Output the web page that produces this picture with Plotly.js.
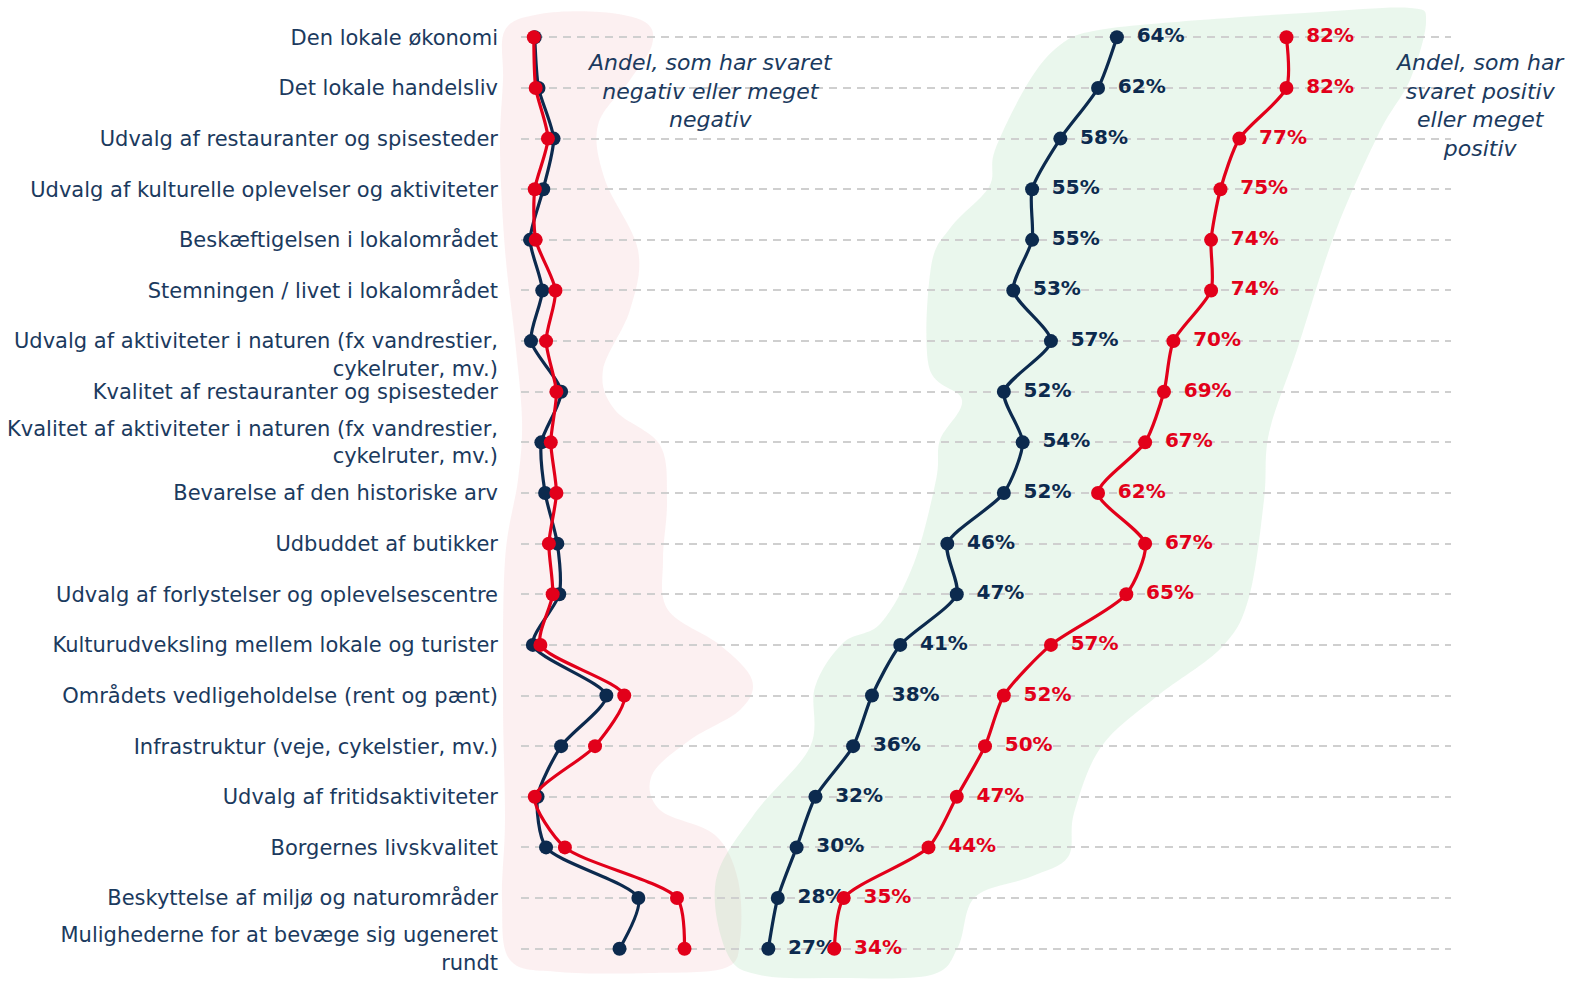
<!DOCTYPE html>
<html>
<head>
<meta charset="utf-8">
<script src="https://cdn.plot.ly/plotly-3.0.1.min.js"></script>
<style>html,body{margin:0;padding:0;background:#fff;}#chart{width:1577px;height:981px;}</style>
</head>
<body>
<div id="chart"></div>
<script>
// ---------- DATA ----------
const categories = [
  "Den lokale økonomi",
  "Det lokale handelsliv",
  "Udvalg af restauranter og spisesteder",
  "Udvalg af kulturelle oplevelser og aktiviteter",
  "Beskæftigelsen i lokalområdet",
  "Stemningen / livet i lokalområdet",
  "Udvalg af aktiviteter i naturen (fx vandrestier,<br>cykelruter, mv.)",
  "Kvalitet af restauranter og spisesteder",
  "Kvalitet af aktiviteter i naturen (fx vandrestier,<br>cykelruter, mv.)",
  "Bevarelse af den historiske arv",
  "Udbuddet af butikker",
  "Udvalg af forlystelser og oplevelsescentre",
  "Kulturudveksling mellem lokale og turister",
  "Områdets vedligeholdelse (rent og pænt)",
  "Infrastruktur (veje, cykelstier, mv.)",
  "Udvalg af fritidsaktiviteter",
  "Borgernes livskvalitet",
  "Beskyttelse af miljø og naturområder",
  "Mulighederne for at bevæge sig ugeneret<br>rundt"
];
// Share answering negative / very negative (%)
const negativeNavy = [2.2, 2.6, 4.2, 3.1, 1.7, 3.0, 1.8, 5.0, 2.9, 3.3, 4.6, 4.8, 2.0, 9.8, 5.0, 2.5, 3.4, 13.2, 11.2];
const negativeRed  = [2.1, 2.3, 3.6, 2.2, 2.3, 4.4, 3.4, 4.5, 3.9, 4.5, 3.7, 4.1, 2.8, 11.7, 8.6, 2.2, 5.4, 17.3, 18.1];
// Share answering positive / very positive (%)
const positiveNavy = [64, 62, 58, 55, 55, 53, 57, 52, 54, 52, 46, 47, 41, 38, 36, 32, 30, 28, 27];
const positiveRed  = [82, 82, 77, 75, 74, 74, 70, 69, 67, 62, 67, 65, 57, 52, 50, 47, 44, 35, 34];

const noteNegative = "Andel, som har svaret<br>negativ eller meget<br>negativ";
const notePositive = "Andel, som har<br>svaret positiv<br>eller meget<br>positiv";

// ---------- STYLE ----------
const NAVY = "#0c2a4e";
const RED = "#e2001a";
const TEXT = "#1b3a5e";
const FONT = "DejaVu Sans, sans-serif";
const W = 1577, H = 981;
const M = {l: 521, r: 126, t: 12, b: 7};
// labels whose first line sits on the row line (wrapped text hangs below)
const hangingLabels = [6];
const tickText = categories.map((c, i) => hangingLabels.includes(i) ? "<br>" + c : c);

// decorative background blobs (pixel outlines -> paper coords)
const pinkBlob = [[505,30],[540,14],[600,12],[645,22],[652,45],[630,80],[598,125],[605,180],[638,250],[630,310],[603,370],[615,410],[660,445],[667,500],[663,560],[668,610],[720,645],[752,680],[740,710],[690,740],[652,775],[660,810],[715,835],[738,880],[740,940],[725,968],[650,973],[560,972],[510,960],[502,900],[505,820],[503,700],[505,560],[518,480],[522,420],[515,340],[505,250],[500,150],[503,80]];
const greenBlob = [[1099,30],[1200,20],[1320,12],[1410,8],[1426,22],[1410,80],[1379,133],[1335,233],[1297,350],[1269,433],[1264,500],[1249,597],[1222,647],[1156,697],[1101,747],[1074,813],[1068,857],[1030,877],[975,897],[958,947],[931,975],[840,978],[760,975],[727,953],[716,880],[755,813],[810,747],[815,687],[843,643],[881,623],[914,563],[936,480],[940,440],[962,400],[929,367],[931,267],[951,227],[989,187],[995,150],[1028,83],[1060,45]];

function toPaper(p){
  const pw = W - M.l - M.r, ph = H - M.t - M.b;
  return [(p[0]-M.l)/pw, 1-(p[1]-M.t)/ph];
}
function blobPath(pts){
  const P = pts.map(toPaper), n = P.length;
  let d = "M" + P[0][0].toFixed(5) + "," + P[0][1].toFixed(5);
  for (let i=0;i<n;i++){
    const p0=P[(i-1+n)%n], p1=P[i], p2=P[(i+1)%n], p3=P[(i+2)%n];
    const c1=[p1[0]+(p2[0]-p0[0])/6, p1[1]+(p2[1]-p0[1])/6];
    const c2=[p2[0]-(p3[0]-p1[0])/6, p2[1]-(p3[1]-p1[1])/6];
    d += " C"+c1[0].toFixed(5)+","+c1[1].toFixed(5)+" "+c2[0].toFixed(5)+","+c2[1].toFixed(5)+" "+p2[0].toFixed(5)+","+p2[1].toFixed(5);
  }
  return d + " Z";
}

function lineTrace(x, color, withText){
  const t = {
    type: "scatter",
    x: x, y: categories,
    mode: withText ? "lines+markers+text" : "lines+markers",
    line: {color: color, width: 3.2, shape: "spline", smoothing: 0.7},
    marker: {color: color, size: 14},
    hoverinfo: "skip",
    cliponaxis: false
  };
  if (withText){
    t.text = x.map(v => "\u2002" + v + "%");
    t.textposition = "middle right";
    t.textfont = {family: FONT, size: 20, color: color, weight: 600};
  }
  return t;
}

const data = [
  lineTrace(negativeNavy, NAVY, false),
  lineTrace(negativeRed, RED, false),
  lineTrace(positiveNavy, NAVY, true),
  lineTrace(positiveRed, RED, true)
];

const layout = {
  width: W, height: H,
  margin: M,
  paper_bgcolor: "#fff", plot_bgcolor: "rgba(0,0,0,0)",
  showlegend: false,
  font: {family: FONT, color: TEXT},
  xaxis: {range: [0.74, 99.47], visible: false, fixedrange: true},
  yaxis: {
    type: "category",
    categoryorder: "array", categoryarray: categories,
    tickmode: "array", tickvals: categories, ticktext: tickText,
    range: [categories.length - 0.5, -0.5],
    showgrid: true, gridcolor: "#cfcfcf", gridwidth: 2, griddash: "8px,6px",
    zeroline: false, showline: false, ticks: "",
    ticklabelstandoff: 22,
    tickfont: {family: FONT, size: 21, color: TEXT},
    fixedrange: true
  },
  shapes: [
    {type: "path", xref: "paper", yref: "paper", path: blobPath(pinkBlob), fillcolor: "rgba(240,170,175,0.18)", line: {width: 0}, layer: "below"},
    {type: "path", xref: "paper", yref: "paper", path: blobPath(greenBlob), fillcolor: "rgba(150,215,165,0.2)", line: {width: 0}, layer: "below"}
  ],
  annotations: [
    {xref: "paper", yref: "paper", x: 0.203, y: 0.918, text: noteNegative, showarrow: false, align: "center",
     xanchor: "center", yanchor: "middle", font: {family: FONT, size: 22, color: TEXT, style: "italic"}},
    {xref: "paper", yref: "paper", x: 1.031, y: 0.9027, text: notePositive, showarrow: false, align: "center",
     xanchor: "center", yanchor: "middle", font: {family: FONT, size: 22, color: TEXT, style: "italic"}}
  ]
};

Plotly.newPlot("chart", data, layout, {displayModeBar: false, staticPlot: true});
</script>
</body>
</html>
